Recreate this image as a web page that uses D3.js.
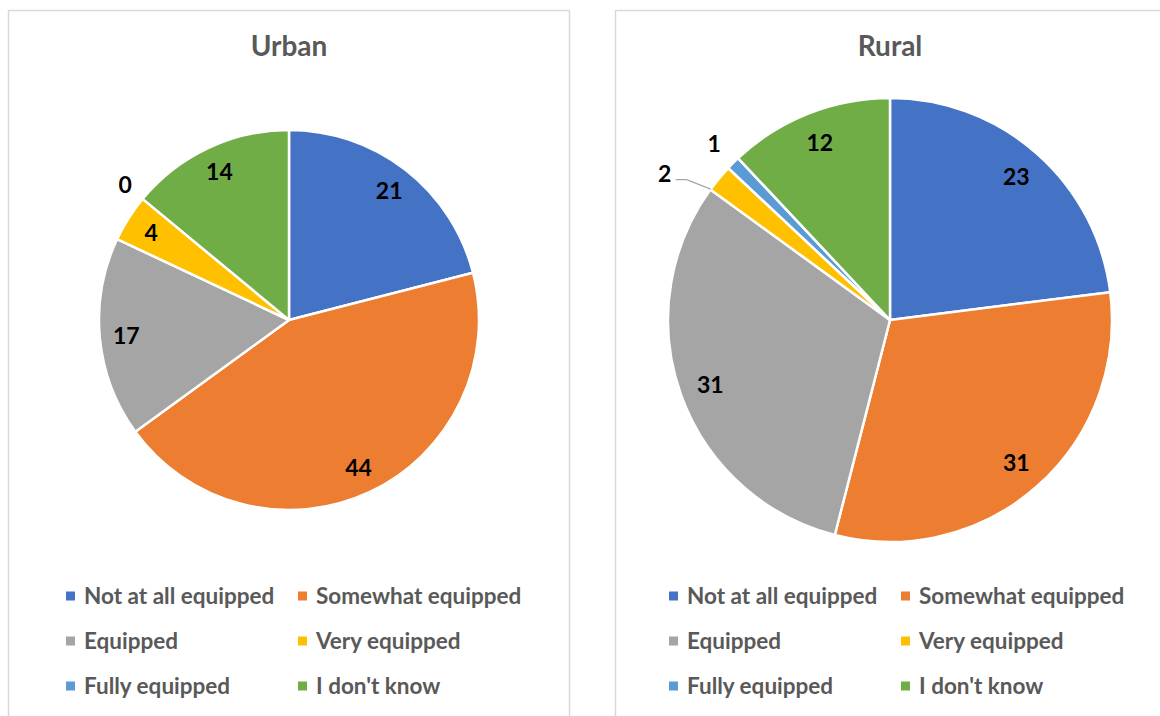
<!DOCTYPE html>
<html>
<head>
<meta charset="utf-8">
<script src="https://cdn.jsdelivr.net/npm/d3@7"></script>
<style>
  body { margin: 0; background: #ffffff; }
  svg { display: block; font-family: Lato, "Open Sans", sans-serif; }
</style>
</head>
<body>
<div id="charts"></div>
<script>
var categories = ["Not at all equipped", "Somewhat equipped", "Equipped",
                  "Very equipped", "Fully equipped", "I don't know"];
var colors = ["#4472c4", "#ed7d31", "#a5a5a5", "#ffc000", "#5b9bd5", "#70ad47"];
var titles = ["Urban", "Rural"];
var urban_values = [21, 44, 17, 4, 0, 14];
var rural_values = [23, 31, 31, 2, 1, 12];

var width = 1160,
    height = 716;

// layout of the two panels (panel box, pie centre, radius, legend columns)
var panels = [
    {values: urban_values, title: titles[0], px: 8, pw: 561, cx: 289, cy: 320, r: 190, lx: 66},
    {values: rural_values, title: titles[1], px: 615, pw: 570, cx: 890, cy: 320, r: 222, lx: 669}
];

var color = d3.scaleOrdinal().domain(categories).range(colors);

var svg = d3.select("#charts")
    .append("svg")
    .attr("width", width)
    .attr("height", height);

function polar(r, a){
    return [r * Math.sin(a), -r * Math.cos(a)];
}

function draw_panel(p){
    var g = svg.append("g");

    g.append("rect")
        .attr("x", p.px + 0.5)
        .attr("y", 10.5)
        .attr("width", p.pw)
        .attr("height", height + 20)
        .attr("fill", "none")
        .attr("stroke", "#d9d9d9")
        .attr("stroke-width", 1.5);

    g.append("text")
        .attr("x", p.cx)
        .attr("y", 56)
        .attr("text-anchor", "middle")
        .attr("fill", "#595959")
        .style("font-size", "28px")
        .style("font-weight", "bold")
        .text(p.title);

    var pie = d3.pie().sort(null).value(d => d.value);
    var data = pie(p.values.map((v, i) => ({key: categories[i], value: v})));

    var arc = d3.arc().innerRadius(0).outerRadius(p.r);

    var pg = g.append("g").attr("transform", `translate(${p.cx},${p.cy})`);

    pg.selectAll("path.slice")
        .data(data.filter(d => d.value > 0))
        .enter()
        .append("path")
        .attr("class", "slice")
        .attr("d", arc)
        .attr("fill", d => color(d.data.key))
        .attr("stroke", "#ffffff")
        .attr("stroke-width", 2.5)
        .attr("stroke-linejoin", "round");

    // label positions: inside for bigger slices, outside for tiny ones
    var labels = data.map(function(d){
        var mid = (d.startAngle + d.endAngle) / 2;
        var inside = d.value >= 3;
        return {d: d, angle: mid, rad: inside ? 0.86 * p.r : 1.12 * p.r, inside: inside, leader: false};
    });
    var outside = labels.filter(l => !l.inside);
    for (var i = outside.length - 2; i >= 0; i--){
        var next = outside[i + 1];
        if (next.angle - outside[i].angle < 8 * Math.PI / 180){
            outside[i].angle = next.angle - 12 * Math.PI / 180;
            outside[i].rad = 1.21 * p.r;
            outside[i].leader = true;
        }
    }

    labels.filter(l => l.leader).forEach(function(l){
        var pos = polar(l.rad, l.angle);
        var a = Math.max(l.d.startAngle + 0.002, Math.min(l.d.endAngle, l.angle));
        var end = polar(p.r, a);
        pg.append("polyline")
            .attr("points", [[pos[0] + 11, pos[1] + 6], [pos[0] + 22, pos[1] + 6], end].join(" "))
            .attr("fill", "none")
            .attr("stroke", "#a6a6a6")
            .attr("stroke-width", 1.2);
    });

    pg.selectAll("text.label")
        .data(labels)
        .enter()
        .append("text")
        .attr("class", "label")
        .attr("x", l => polar(l.rad, l.angle)[0])
        .attr("y", l => polar(l.rad, l.angle)[1])
        .attr("dy", "0.36em")
        .attr("text-anchor", "middle")
        .attr("fill", "#000000")
        .style("font-size", "23px")
        .style("font-weight", "bold")
        .text(l => l.d.value);

    // legend, two columns, three rows
    var lg = g.selectAll("g.legend")
        .data(categories)
        .enter()
        .append("g")
        .attr("class", "legend")
        .attr("transform", (d, i) => `translate(${p.lx + (i % 2) * 232},${596 + Math.floor(i / 2) * 45})`);

    lg.append("rect")
        .attr("x", 0)
        .attr("y", -4.5)
        .attr("width", 9)
        .attr("height", 9)
        .attr("fill", d => color(d));

    lg.append("text")
        .attr("x", 18)
        .attr("dy", "0.36em")
        .attr("fill", "#595959")
        .style("font-size", "22.5px")
        .style("font-weight", "bold")
        .text(d => d);
}

panels.forEach(draw_panel);
</script>
</body>
</html>
